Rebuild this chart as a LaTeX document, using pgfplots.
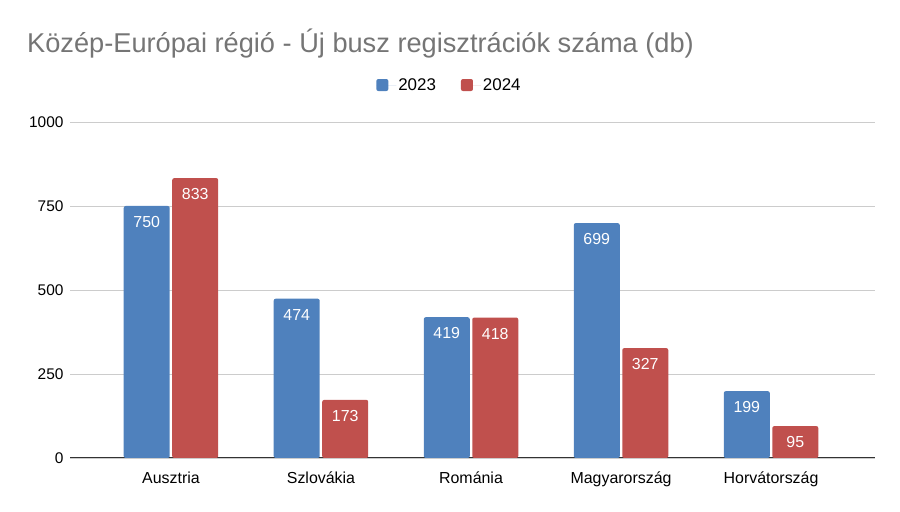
\documentclass[border=0pt]{standalone}
\usepackage{pgfplots}
\pgfplotsset{compat=1.18}
\usepackage{fontspec}
\setmainfont{Liberation Sans}
\definecolor{b23}{RGB}{79,129,189}
\definecolor{r24}{RGB}{192,80,77}
\definecolor{ttl}{RGB}{117,117,117}
\begin{document}
\begin{tikzpicture}[x=1bp,y=1bp]
\useasboundingbox (0,0) rectangle (900,512);
\node[anchor=base west, text=ttl, font=\fontsize{27.3}{32}\selectfont, inner sep=0pt] at (27,459) {Közép-Európai régió - Új busz regisztrációk száma (db)};
\begin{axis}[
  at={(70bp,54bp)}, anchor=south west, scale only axis,
  width=805bp, height=336bp,
  ymin=0, ymax=1000, ytick={0,250,500,750,1000},
  yticklabels={0,250,500,750,1000},
  xmin=-0.673, xmax=4.693,
  xtick={0,1,2,3,4},
  xticklabels={Ausztria,Szlovákia,Románia,Magyarország,Horvátország},
  ybar=2.5bp, bar width=46bp,
  axis x line*=bottom, axis y line*=left,
  y axis line style={draw=none},
  x axis line style={draw={rgb,255:red,51;green,51;blue,51}, line width=1bp, -},
  major tick length=0pt,
  ymajorgrids, grid style={draw={rgb,255:red,204;green,204;blue,204}, line width=0.8bp},
  tick label style={font=\fontsize{15.5}{18}\selectfont, text=black},
  yticklabel style={xshift=-3bp, font=\fontsize{15.5}{18}\selectfont},
  xticklabel style={yshift=-10bp, font=\fontsize{16}{19}\selectfont},
  /pgf/number format/assume math mode=true,
  /pgf/number format/1000 sep={},
  nodes near coords,
  every node near coord/.append style={anchor=north, text=white, yshift=-7bp, font=\fontsize{16}{19}\selectfont},
  legend style={at={(0.4714,1.11)}, anchor=center, legend columns=2, draw=none, fill=none,
    font=\fontsize{17}{20}\selectfont,
    /tikz/every even column/.append style={column sep=23bp}},
  legend image code/.code={\fill[#1] (0bp,-6bp) rectangle (12bp,6bp); \path (0bp,0bp) -- (20bp,0bp);},
  enlarge x limits=false,
]
\addplot[draw=none, fill=b23, rounded corners=2bp] coordinates {(0,750) (1,474) (2,419) (3,699) (4,199)};
\addplot[draw=none, fill=r24, rounded corners=2bp] coordinates {(0,833) (1,173) (2,418) (3,327) (4,95)};
\legend{2023,2024}
\end{axis}
\end{tikzpicture}
\end{document}
